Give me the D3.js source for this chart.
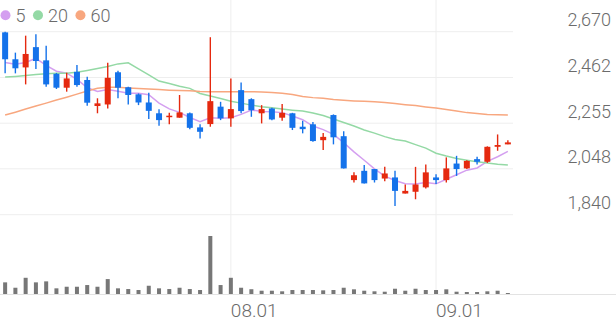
<!DOCTYPE html>
<html>
<head>
<meta charset="utf-8">
<script src="https://cdn.jsdelivr.net/npm/d3@7"></script>
<style>
  body { margin: 0; background: #fff; }
  svg { display: block; font-family: Roboto, "Noto Sans", sans-serif; }
</style>
</head>
<body>
<div id="chart"></div>
<script>
// daily candles (KRW), oldest first
const open  = [2667, 2545, 2508, 2600, 2540, 2479, 2416, 2488, 2451, 2333,
               2340, 2486, 2418, 2386, 2349, 2300, 2283, 2280, 2300, 2236,
               2251, 2330, 2277, 2405, 2364, 2300, 2322, 2280, 2300, 2239,
               2250, 2178, 2292, 2196, 1997, 2039, 2047, 2004, 2009, 1936,
               1944, 1964, 2009, 1997, 2072, 2050, 2092, 2080, 2148, 2159];
const high  = [2670, 2575, 2652, 2658, 2606, 2483, 2484, 2519, 2466, 2368,
               2529, 2493, 2420, 2390, 2393, 2318, 2302, 2383, 2304, 2250,
               2645, 2352, 2458, 2440, 2368, 2337, 2325, 2342, 2302, 2266,
               2261, 2211, 2295, 2219, 2032, 2065, 2047, 2057, 2039, 1977,
               2057, 2068, 2024, 2100, 2107, 2087, 2103, 2150, 2204, 2178];
const low   = [2481, 2481, 2431, 2501, 2420, 2410, 2398, 2420, 2334, 2300,
               2322, 2368, 2340, 2337, 2274, 2243, 2250, 2280, 2228, 2186,
               2239, 2269, 2239, 2300, 2284, 2254, 2268, 2266, 2224, 2209,
               2171, 2133, 2159, 2050, 1986, 1982, 1986, 1992, 1879, 1936,
               1910, 1959, 1979, 1986, 2016, 2047, 2068, 2075, 2130, 2159];
const close = [2545, 2504, 2569, 2537, 2431, 2416, 2458, 2428, 2348, 2345,
               2461, 2416, 2383, 2349, 2311, 2269, 2289, 2304, 2234, 2216,
               2355, 2277, 2319, 2310, 2314, 2319, 2272, 2302, 2234, 2228,
               2174, 2193, 2191, 2050, 2019, 1982, 1997, 2027, 1948, 1948,
               1977, 2032, 1997, 2050, 2047, 2084, 2080, 2148, 2156, 2168];
const volume = [117, 63, 163, 117, 127, 57, 73, 73, 90, 73,
                150, 57, 50, 40, 83, 57, 50, 63, 50, 40,
                583, 90, 163, 63, 48, 33, 33, 27, 40, 40,
                40, 37, 40, 63, 47, 33, 27, 23, 53, 33,
                53, 40, 40, 47, 23, 20, 20, 27, 33, 10];

// moving averages as drawn
const ma5  = [2530, 2522, 2530, 2549, 2517, 2491, 2482, 2454, 2416, 2399,
              2408, 2400, 2391, 2391, 2384, 2346, 2320, 2304, 2281, 2262,
              2280, 2277, 2280, 2295, 2315, 2308, 2307, 2303, 2288, 2271,
              2242, 2226, 2204, 2167, 2125, 2087, 2048, 2015, 1995, 1980,
              1979, 1986, 1980, 2001, 2021, 2042, 2052, 2082, 2103, 2127];
const ma20 = [2464, 2467, 2471, 2476, 2479, 2481, 2482, 2486, 2494, 2503,
              2512, 2524, 2529, 2501, 2474, 2446, 2435, 2423, 2413, 2390,
              2378, 2367, 2355, 2346, 2337, 2330, 2325, 2319, 2314, 2310,
              2301, 2290, 2274, 2258, 2242, 2224, 2210, 2194, 2181, 2174,
              2158, 2142, 2119, 2106, 2095, 2087, 2080, 2075, 2069, 2065];
const ma60 = [2292, 2305, 2319, 2333, 2346, 2360, 2373, 2387, 2401, 2413,
              2418, 2418, 2415, 2412, 2410, 2408, 2405, 2403, 2402, 2399,
              2398, 2398, 2398, 2398, 2398, 2396, 2394, 2391, 2385, 2376,
              2371, 2368, 2362, 2359, 2356, 2354, 2352, 2349, 2344, 2339,
              2335, 2329, 2324, 2317, 2310, 2303, 2299, 2295, 2293, 2292];

const maNames = ["5", "20", "60"];
const priceTicks = [2670, 2462, 2255, 2048, 1840];
const dateTickIndex = [22, 42];
const dateTickLabels = ["08.01", "09.01"];

const W = 616, H = 321;
const plotRight = 513;
const UP = "#e5290f", DOWN = "#1472ea";
const maColors = ["#d49ff0", "#94d9a5", "#f8a77f"];
const GRID = "#eeeeee", TEXT = "#6b6b6b";

const svg = d3.select("#chart").append("svg")
    .attr("width", W)
    .attr("height", H);

const x = d3.scaleBand()
    .domain(d3.range(close.length))
    .range([0, plotRight])
    .padding(0);
const cx = i => x(i) + x.bandwidth() / 2;

const y = d3.scaleLinear()
    .domain([1840, 2670])
    .range([214.7, 31.7]);

const vy = d3.scaleLinear()
    .domain([0, d3.max(volume)])
    .range([294, 236]);

// horizontal grid + price labels
svg.append("g").selectAll("line")
    .data(priceTicks)
    .join("line")
    .attr("x1", 0).attr("x2", plotRight)
    .attr("y1", d => y(d)).attr("y2", d => y(d))
    .attr("stroke", GRID).attr("stroke-width", 1);

svg.append("g").selectAll("text")
    .data(priceTicks)
    .join("text")
    .attr("x", 611)
    .attr("y", d => y(d) - 5.7)
    .attr("text-anchor", "end")
    .attr("font-size", 18)
    .attr("font-weight", 300)
    .attr("fill", TEXT)
    .text(d => d3.format(",")(d));

// vertical date grid + labels
svg.append("g").selectAll("line")
    .data(dateTickIndex)
    .join("line")
    .attr("x1", d => cx(d)).attr("x2", d => cx(d))
    .attr("y1", 0).attr("y2", 294)
    .attr("stroke", GRID).attr("stroke-width", 1);

svg.append("g").selectAll("text")
    .data(dateTickIndex)
    .join("text")
    .attr("x", d => cx(d))
    .attr("y", 316.5)
    .attr("font-size", 19)
    .attr("font-weight", 300)
    .attr("fill", TEXT)
    .text((d, k) => dateTickLabels[k]);

// volume baseline
svg.append("line")
    .attr("x1", 0).attr("x2", W)
    .attr("y1", 294.5).attr("y2", 294.5)
    .attr("stroke", "#e3e3e3");

// volume bars
svg.append("g").selectAll("rect")
    .data(volume)
    .join("rect")
    .attr("x", (d, i) => cx(i) - 2)
    .attr("y", d => vy(d))
    .attr("width", 4)
    .attr("height", d => 294 - vy(d))
    .attr("fill", "#777");

// moving average lines
const line = d3.line()
    .x((d, i) => cx(i))
    .y(d => y(d));

[ma5, ma20, ma60].forEach((series, k) => {
    svg.append("path")
        .datum(series)
        .attr("fill", "none")
        .attr("stroke", maColors[k])
        .attr("stroke-width", 1.5)
        .attr("d", line);
});

// candles
const candles = svg.append("g").selectAll("g")
    .data(close.map((c, i) => ({ i, o: open[i], h: high[i], l: low[i], c })))
    .join("g");

candles.append("line")
    .attr("x1", d => cx(d.i)).attr("x2", d => cx(d.i))
    .attr("y1", d => y(d.h)).attr("y2", d => y(d.l))
    .attr("stroke", d => d.c >= d.o ? UP : DOWN)
    .attr("stroke-width", 1.4);

candles.append("rect")
    .attr("x", d => cx(d.i) - 3)
    .attr("y", d => y(Math.max(d.o, d.c)))
    .attr("width", 6)
    .attr("height", d => Math.max(1.5, Math.abs(y(d.o) - y(d.c))))
    .attr("fill", d => d.c >= d.o ? UP : DOWN);

// legend
let lx = 0;
maNames.forEach((name, k) => {
    svg.append("circle")
        .attr("cx", lx + 5.5).attr("cy", 15.3).attr("r", 5)
        .attr("fill", maColors[k]);
    const t = svg.append("text")
        .attr("x", lx + 15.5).attr("y", 21.5)
        .attr("font-size", 18)
        .attr("font-weight", 300)
        .attr("fill", TEXT)
        .text(name);
    lx += 15.5 + t.node().getComputedTextLength() + 7;
});
</script>
</body>
</html>
